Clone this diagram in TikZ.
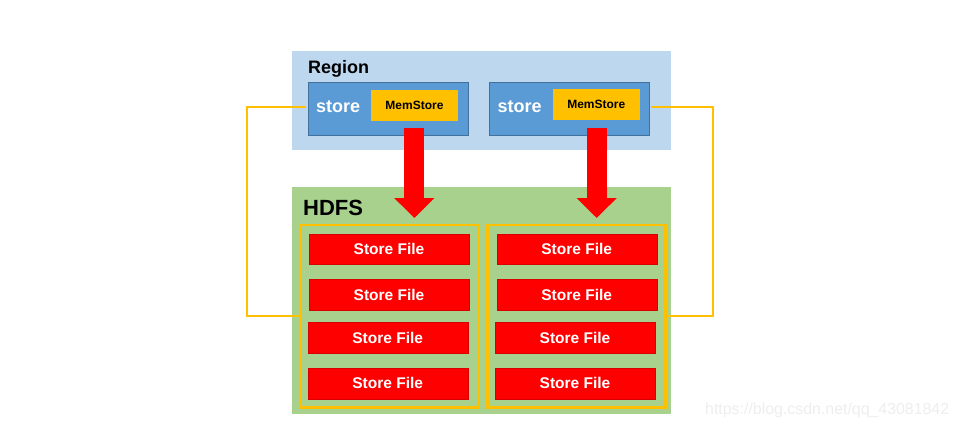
\documentclass[tikz,border=0pt]{standalone}
\usepackage{fontspec}
\setmainfont{Liberation Sans}
\usetikzlibrary{arrows.meta}
\definecolor{regionbg}{HTML}{BDD7EE}
\definecolor{storeblue}{HTML}{5B9BD5}
\definecolor{storeedge}{HTML}{41719C}
\definecolor{gold}{HTML}{FFC000}
\definecolor{hdfsbg}{HTML}{A9D18E}
\definecolor{wm}{HTML}{EEEEEE}
\definecolor{sfred}{HTML}{FF0000}
\begin{document}
\begin{tikzpicture}[x=1pt,y=-1pt,
  box/.style={anchor=north west, inner sep=0pt, outer sep=0pt},
  storebox/.style={box, fill=storeblue, draw=storeedge, line width=0.8pt, minimum width=160, minimum height=53},
  membox/.style={fill=gold, inner sep=0pt, outer sep=0pt, minimum width=87, minimum height=31, font=\bfseries\fontsize{12}{12}\selectfont},
  filebox/.style={box, fill=sfred, draw=red!85!black, line width=0.4pt, minimum width=160, minimum height=30.5, text=white, font=\bfseries\fontsize{15.5}{15.5}\selectfont},
  goldframe/.style={box, draw=gold, line width=2.5pt, minimum width=178, minimum height=182.5},
  goldline/.style={draw=gold, line width=2pt},
  fatarrow/.style={draw=sfred, line width=20pt, -{Triangle[width=39pt,length=20pt]}},
  lbl/.style={anchor=base west, inner sep=0pt, font=\bfseries\fontsize{18}{18}\selectfont}
]
\useasboundingbox[fill=white] (0,0) rectangle (959,428);

% Region
\node[box, fill=regionbg, minimum width=379, minimum height=99] (region) at (292,51) {};
\node[lbl] (regionlbl) at (308,74) {Region};
\node[storebox] (store1) at (308,82) {};
\node[storebox] (store2) at (489.5,82) {};
\node[lbl, text=white] (storelbl1) at (316,113) {store};
\node[lbl, text=white] (storelbl2) at (497.5,113) {store};
\node[membox] (mem1) at (414.5,105.2) {MemStore};
\node[membox] (mem2) at (596.3,104.5) {MemStore};

% HDFS
\node[box, fill=hdfsbg, minimum width=379, minimum height=227] (hdfs) at (292,187) {};
\node[lbl, font=\bfseries\fontsize{22}{22}\selectfont] (hdfslbl) at (303,215) {HDFS};

\node[goldframe] (lframe) at (300,225) {};
\node[goldframe] (rframe) at (487.7,225) {};

\node[filebox] (f11) at (309,234) {Store File};
\node[filebox] (f12) at (309,279.5) {Store File};
\node[filebox] (f13) at (307.7,322.5) {Store File};
\node[filebox] (f14) at (307.7,368.2) {Store File};
\node[filebox] (f21) at (496.7,234) {Store File};
\node[filebox] (f22) at (496.7,279.5) {Store File};
\node[filebox] (f23) at (495,322.5) {Store File};
\node[filebox] (f24) at (495,368.2) {Store File};

% fat arrows
\coordinate (a1s) at (414.3,127.7);
\coordinate (a1e) at (414.3,218);
\coordinate (a2s) at (596.7,127.7);
\coordinate (a2e) at (596.7,218);
\draw[fatarrow] (a1s) -- (a1e);
\draw[fatarrow] (a2s) -- (a2e);

% gold connectors
\coordinate (lc) at (247,106.7);
\coordinate (rc) at (713,106.7);
\draw[goldline] ([xshift=-2pt]store1.west |- lc) -- (lc) |- (lframe.west);
\draw[goldline] ([xshift=1pt]store2.east |- rc) -- (rc) |- (rframe.east);

% watermark
\node[anchor=base west, inner sep=0pt, text=wm, font=\fontsize{15.9}{15.9}\selectfont] (wmark) at (705,414) {https://blog.csdn.net/qq\_43081842};
\end{tikzpicture}
\end{document}
